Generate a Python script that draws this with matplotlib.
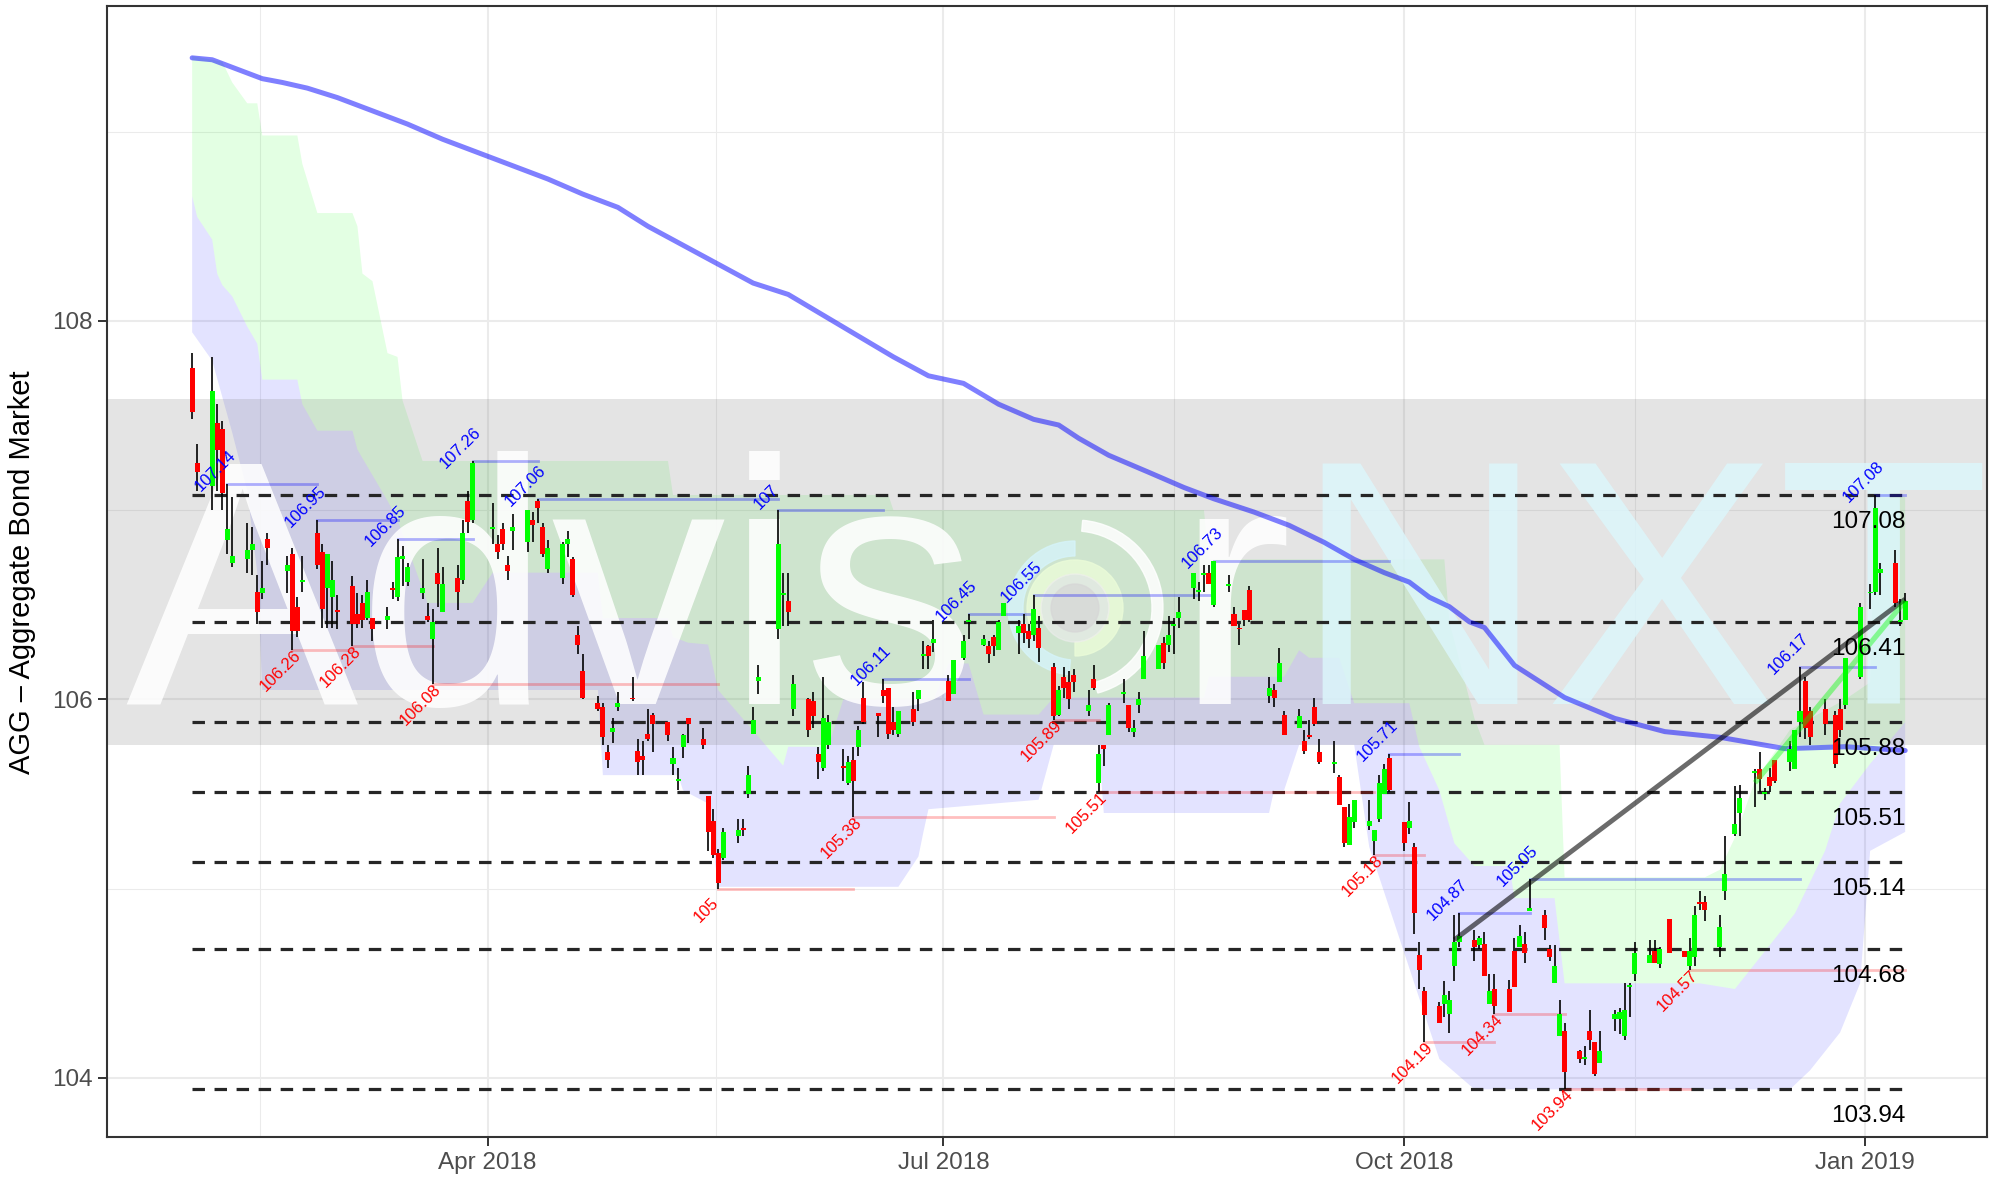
import numpy as np
import pandas as pd
import matplotlib
matplotlib.use('Agg')
import matplotlib.pyplot as plt
import matplotlib.dates as mdates
from matplotlib.patches import Wedge, Circle
from matplotlib.transforms import IdentityTransform

plt.rcParams['font.family'] = ['Liberation Sans', 'DejaVu Sans']

# trading days shown
holidays = ['2018-02-19', '2018-03-30', '2018-05-28', '2018-07-04', '2018-09-03',
            '2018-11-22', '2018-12-05', '2018-12-25', '2019-01-01']
days = pd.bdate_range('2018-02-01', '2019-01-09')
days = days[~days.isin(pd.to_datetime(holidays))]

opens = [
    # Feb
    107.75, 107.25, 107.13, 107.46, 107.43, 106.84, 106.72, 106.74, 106.79, 106.57, 106.56, 106.85, 106.68, 106.77, 106.49, 106.62, 106.88, 106.78, 106.59,
    # Mar
    106.54, 106.47, 106.60, 106.45, 106.51, 106.43, 106.43, 106.42, 106.59, 106.54, 106.74, 106.62, 106.56, 106.44, 106.32, 106.67, 106.46, 106.64, 106.63, 107.05, 106.95,
    # Apr
    106.90, 106.82, 106.90, 106.71, 106.89, 106.83, 106.95, 107.05, 106.91, 106.69, 106.64, 106.82, 106.74, 106.34, 106.15, 105.98, 105.96, 105.72, 105.83, 105.96, 106.01,
    # May
    105.73, 105.70, 105.82, 105.92, 105.88, 105.66, 105.57, 105.75, 105.90, 105.79, 105.49, 105.36, 105.19, 105.16, 105.28, 105.32, 105.50, 105.82, 106.10, 106.37, 106.55, 106.52,
    # Jun
    105.95, 106.00, 105.99, 105.71, 105.64, 105.76, 105.65, 105.56, 105.68, 105.75, 106.01, 105.93, 106.05, 106.06, 105.88, 105.82, 105.95, 106.00, 106.23, 106.28, 106.30,
    # Jul
    106.10, 106.03, 106.22, 106.41, 106.29, 106.28, 106.33, 106.26, 106.44, 106.35, 106.40, 106.36, 106.34, 106.38, 106.17, 105.92, 106.12, 106.09, 106.13, 105.94, 106.11,
    # Aug
    105.56, 105.76, 105.81, 106.03, 105.97, 105.83, 105.97, 106.11, 106.16, 106.30, 106.29, 106.39, 106.43, 106.59, 106.57, 106.66, 106.67, 106.50, 106.60, 106.45, 106.38, 106.47, 106.58,
    # Sep
    106.02, 106.05, 106.09, 105.92, 105.85, 105.78, 105.81, 105.96, 105.72, 105.66, 105.59, 105.43, 105.23, 105.35, 105.33, 105.25, 105.37, 105.50, 105.69,
    # Oct
    105.35, 105.32, 105.22, 104.65, 104.46, 104.38, 104.39, 104.34, 104.59, 104.72, 104.73, 104.70, 104.71, 104.39, 104.47, 104.47, 104.67, 104.69, 104.71, 104.88, 104.86, 104.68, 104.50,
    # Nov
    104.22, 104.25, 104.14, 104.10, 104.25, 104.19, 104.08, 104.31, 104.31, 104.22, 104.48, 104.55, 104.61, 104.67, 104.60, 104.84, 104.67, 104.59, 104.64, 104.93, 104.93,
    # Dec
    104.69, 104.99, 105.29, 105.40, 105.61, 105.63, 105.50, 105.59, 105.68, 105.67, 105.63, 105.88, 106.10, 105.94, 105.95, 105.92, 105.95, 105.97, 106.12,
    # Jan
    106.56, 106.57, 106.67, 106.72, 106.41, 106.42,
]
highs = [
    107.83, 107.35, 107.81, 107.56, 107.47, 107.14, 107.07, 106.93, 106.91, 106.66, 106.73, 106.88, 106.76, 106.80, 106.54, 106.76, 106.95, 106.82, 106.77,
    106.73, 106.55, 106.65, 106.56, 106.55, 106.63, 106.43, 106.49, 106.62, 106.85, 106.81, 106.72, 106.74, 106.51, 106.48, 106.80, 106.70, 106.71, 106.95, 107.10, 107.26,
    107.04, 106.87, 106.93, 106.76, 106.98, 107.00, 106.99, 107.06, 106.93, 106.84, 106.83, 106.89, 106.75, 106.39, 106.24, 106.02, 105.98, 105.76, 105.90, 106.04, 106.12,
    105.79, 105.78, 105.95, 105.93, 105.88, 105.75, 105.64, 105.82, 105.90, 105.85, 105.49, 105.42, 105.21, 105.32, 105.37, 105.37, 105.65, 105.96, 106.18, 107.00, 106.67, 106.67,
    106.13, 106.01, 106.04, 105.75, 106.12, 105.92, 105.74, 105.70, 105.75, 105.86, 106.09, 105.93, 106.11, 106.06, 105.96, 105.94, 106.04, 106.05, 106.31, 106.29, 106.42,
    106.13, 106.21, 106.34, 106.45, 106.34, 106.31, 106.34, 106.42, 106.51, 106.42, 106.45, 106.40, 106.55, 106.44, 106.19, 106.07, 106.17, 106.15, 106.16, 106.05, 106.18,
    105.76, 105.76, 105.98, 106.11, 105.97, 105.89, 106.04, 106.36, 106.29, 106.33, 106.44, 106.43, 106.54, 106.67, 106.62, 106.71, 106.71, 106.73, 106.66, 106.49, 106.40, 106.47, 106.60,
    106.12, 106.08, 106.27, 105.94, 105.95, 105.84, 105.89, 106.01, 105.79, 105.78, 105.60, 105.43, 105.45, 105.47, 105.47, 105.31, 105.60, 105.66, 105.71,
    105.35, 105.46, 105.24, 104.72, 104.48, 104.40, 104.51, 104.46, 104.86, 104.87, 104.78, 104.75, 104.77, 104.55, 104.55, 104.52, 104.74, 104.81, 104.77, 105.05, 104.89, 104.70, 104.70,
    104.41, 104.29, 104.15, 104.17, 104.36, 104.19, 104.25, 104.36, 104.37, 104.50, 104.50, 104.72, 104.73, 104.73, 104.69, 104.84, 104.67, 104.74, 104.91, 104.99, 104.96,
    104.86, 105.28, 105.54, 105.55, 105.63, 105.72, 105.53, 105.64, 105.68, 105.78, 105.84, 106.17, 106.12, 105.96, 106.00, 105.94, 106.00, 106.22, 106.51,
    106.61, 107.08, 106.72, 106.79, 106.53, 106.56,
]
lows = [
    107.48, 107.10, 107.00, 107.10, 107.00, 106.77, 106.70, 106.67, 106.66, 106.40, 106.53, 106.71, 106.56, 106.26, 106.33, 106.57, 106.69, 106.38, 106.38,
    106.38, 106.37, 106.28, 106.38, 106.38, 106.42, 106.31, 106.37, 106.53, 106.52, 106.60, 106.60, 106.53, 106.41, 106.08, 106.49, 106.46, 106.47, 106.61, 106.88, 106.93,
    106.82, 106.74, 106.79, 106.63, 106.79, 106.78, 106.83, 106.93, 106.75, 106.67, 106.61, 106.75, 106.54, 106.24, 106.00, 105.94, 105.76, 105.64, 105.77, 105.94, 105.99,
    105.60, 105.60, 105.78, 105.72, 105.78, 105.60, 105.52, 105.69, 105.77, 105.74, 105.20, 105.16, 105.00, 105.15, 105.24, 105.28, 105.48, 105.82, 106.03, 106.32, 106.39, 106.39,
    105.91, 105.80, 105.85, 105.58, 105.62, 105.74, 105.57, 105.55, 105.38, 105.70, 105.87, 105.80, 105.98, 105.79, 105.81, 105.80, 105.86, 105.94, 106.16, 106.16, 106.25,
    105.99, 106.03, 106.21, 106.32, 106.28, 106.19, 106.23, 106.26, 106.44, 106.24, 106.30, 106.27, 106.31, 106.20, 105.89, 105.91, 106.01, 105.95, 106.04, 105.91, 106.05,
    105.51, 105.65, 105.81, 105.98, 105.83, 105.80, 105.93, 106.11, 106.16, 106.16, 106.25, 106.24, 106.38, 106.53, 106.52, 106.57, 106.61, 106.49, 106.57, 106.39, 106.29, 106.39, 106.41,
    105.98, 105.96, 106.09, 105.81, 105.85, 105.71, 105.79, 105.86, 105.66, 105.61, 105.44, 105.22, 105.23, 105.32, 105.31, 105.18, 105.35, 105.50, 105.51,
    105.20, 105.29, 104.76, 104.47, 104.19, 104.29, 104.32, 104.24, 104.51, 104.69, 104.62, 104.68, 104.54, 104.39, 104.34, 104.35, 104.48, 104.69, 104.61, 104.88, 104.73, 104.62, 104.50,
    104.22, 103.94, 104.08, 104.07, 104.15, 104.01, 104.08, 104.25, 104.23, 104.20, 104.32, 104.51, 104.61, 104.61, 104.58, 104.66, 104.64, 104.57, 104.59, 104.89, 104.83,
    104.64, 104.94, 105.28, 105.28, 105.43, 105.51, 105.47, 105.51, 105.56, 105.62, 105.63, 105.80, 105.79, 105.76, 105.81, 105.64, 105.80, 105.95, 106.11,
    106.48, 106.55, 106.55, 106.49, 106.39, 106.42,
]
closes = [
    107.52, 107.20, 107.63, 107.32, 107.09, 106.90, 106.76, 106.79, 106.82, 106.46, 106.59, 106.80, 106.71, 106.36, 106.36, 106.63, 106.71, 106.48, 106.77,
    106.63, 106.46, 106.40, 106.40, 106.42, 106.57, 106.37, 106.44, 106.58, 106.75, 106.76, 106.70, 106.59, 106.42, 106.41, 106.61, 106.61, 106.57, 106.88, 106.94, 107.25,
    106.91, 106.78, 106.82, 106.68, 106.91, 107.00, 106.92, 107.01, 106.77, 106.80, 106.82, 106.85, 106.55, 106.29, 106.01, 105.95, 105.80, 105.68, 105.85, 105.98, 106.00,
    105.67, 105.68, 105.79, 105.87, 105.81, 105.69, 105.58, 105.81, 105.87, 105.76, 105.30, 105.18, 105.03, 105.30, 105.31, 105.31, 105.60, 105.89, 106.12, 106.82, 106.56, 106.46,
    106.08, 105.84, 105.91, 105.67, 105.90, 105.88, 105.64, 105.67, 105.57, 105.84, 105.88, 105.91, 106.02, 105.82, 105.84, 105.94, 105.88, 106.05, 106.24, 106.23, 106.32,
    105.99, 106.21, 106.31, 106.42, 106.32, 106.24, 106.28, 106.41, 106.51, 106.39, 106.35, 106.32, 106.48, 106.27, 105.91, 106.05, 106.06, 106.00, 106.09, 105.97, 106.06,
    105.71, 105.74, 105.97, 106.04, 105.85, 105.85, 106.00, 106.23, 106.29, 106.19, 106.34, 106.40, 106.46, 106.67, 106.58, 106.67, 106.61, 106.73, 106.61, 106.39, 106.37, 106.42, 106.42,
    106.06, 106.01, 106.19, 105.81, 105.91, 105.73, 105.80, 105.87, 105.67, 105.67, 105.44, 105.24, 105.38, 105.47, 105.36, 105.31, 105.56, 105.63, 105.52,
    105.24, 105.36, 104.87, 104.57, 104.33, 104.29, 104.44, 104.41, 104.72, 104.75, 104.69, 104.74, 104.54, 104.46, 104.38, 104.35, 104.48, 104.75, 104.66, 104.90, 104.79, 104.64, 104.59,
    104.34, 104.03, 104.10, 104.11, 104.20, 104.02, 104.14, 104.34, 104.35, 104.36, 104.49, 104.66, 104.65, 104.61, 104.68, 104.66, 104.64, 104.67, 104.86, 104.92, 104.89,
    104.80, 105.08, 105.34, 105.48, 105.62, 105.58, 105.51, 105.54, 105.57, 105.74, 105.84, 105.94, 105.85, 105.80, 105.87, 105.66, 105.84, 106.22, 106.49,
    106.57, 107.01, 106.69, 106.51, 106.42, 106.52,
]

# long moving average
ma_dates = ['2018-02-01', '2018-02-05', '2018-02-10', '2018-02-15', '2018-02-19', '2018-02-24',
            '2018-03-02', '2018-03-09', '2018-03-16', '2018-03-23', '2018-03-30', '2018-04-06',
            '2018-04-13', '2018-04-20', '2018-04-27', '2018-05-03', '2018-05-10', '2018-05-17',
            '2018-05-24', '2018-05-31', '2018-06-07', '2018-06-14', '2018-06-21', '2018-06-28',
            '2018-07-05', '2018-07-12', '2018-07-19', '2018-07-24', '2018-07-28', '2018-08-03',
            '2018-08-11', '2018-08-18', '2018-08-24', '2018-09-01', '2018-09-08', '2018-09-15',
            '2018-09-21', '2018-09-27', '2018-10-02', '2018-10-06', '2018-10-10', '2018-10-14',
            '2018-10-17', '2018-10-23', '2018-11-02', '2018-11-12', '2018-11-22', '2018-12-03',
            '2018-12-16', '2018-12-28', '2019-01-09']
ma_values = [109.39, 109.38, 109.33, 109.28, 109.26, 109.23,
             109.18, 109.11, 109.04, 108.96, 108.89, 108.82,
             108.75, 108.67, 108.60, 108.50, 108.40, 108.30,
             108.20, 108.14, 108.03, 107.92, 107.81, 107.71,
             107.67, 107.56, 107.48, 107.45, 107.38, 107.29,
             107.20, 107.12, 107.06, 106.99, 106.92, 106.83,
             106.74, 106.67, 106.62, 106.54, 106.49, 106.41,
             106.38, 106.18, 106.01, 105.90, 105.83, 105.80,
             105.74, 105.75, 105.73]

# clouds
green_top_dates = ['2018-02-01', '2018-02-07', '2018-02-09', '2018-02-12', '2018-02-14', '2018-02-15',
                   '2018-02-22', '2018-02-23', '2018-02-26', '2018-03-05', '2018-03-06', '2018-03-07',
                   '2018-03-09', '2018-03-12', '2018-03-14', '2018-03-15', '2018-03-19', '2018-05-07',
                   '2018-05-08', '2018-06-20', '2018-06-21', '2018-08-22', '2018-08-23', '2018-10-09',
                   '2018-10-10', '2018-10-15', '2018-10-17', '2018-11-01', '2018-11-02', '2018-11-30',
                   '2018-12-03', '2018-12-06', '2018-12-10', '2018-12-17', '2018-12-28', '2019-01-02',
                   '2019-01-03', '2019-01-09']
green_top = [109.40, 109.37, 109.26, 109.15, 109.15, 108.98,
             108.98, 108.83, 108.57, 108.57, 108.50, 108.25,
             108.21, 107.83, 107.81, 107.58, 107.26, 107.26,
             107.08, 107.08, 107.00, 107.00, 106.74, 106.74,
             106.41, 105.90, 105.76, 105.76, 105.06, 105.06,
             105.10, 105.27, 105.57, 105.84, 106.00, 106.09,
             107.07, 107.07]
blue_top_dates = ['2018-02-01', '2018-02-02', '2018-02-05', '2018-02-06', '2018-02-07', '2018-02-09',
                  '2018-02-12', '2018-02-14', '2018-02-15', '2018-02-22', '2018-02-23', '2018-02-26',
                  '2018-03-05', '2018-03-06', '2018-03-08', '2018-03-12', '2018-03-14', '2018-03-20',
                  '2018-03-29', '2018-04-02', '2018-04-23', '2018-04-24', '2018-05-07', '2018-05-08',
                  '2018-05-11', '2018-05-15', '2018-05-17', '2018-05-30', '2018-05-31', '2018-06-08',
                  '2018-06-11', '2018-06-29', '2018-07-02', '2018-07-06', '2018-07-09', '2018-07-20',
                  '2018-07-23', '2018-08-22',
                  '2018-08-23', '2018-09-07', '2018-09-10', '2018-09-12', '2018-09-18', '2018-09-21',
                  '2018-10-02', '2018-10-04', '2018-10-08', '2018-10-11', '2018-10-15', '2018-10-22',
                  '2018-10-23', '2018-10-31', '2018-11-02', '2018-11-29', '2018-12-06', '2018-12-18',
                  '2018-12-24', '2018-12-27', '2019-01-02', '2019-01-09']
blue_top = [108.66, 108.55, 108.43, 108.25, 108.19, 108.13,
            107.97, 107.88, 107.69, 107.69, 107.56, 107.42,
            107.42, 107.32, 107.23, 107.05, 106.95, 106.51,
            106.51, 106.67, 106.67, 106.43, 106.43, 106.33,
            106.30, 106.29, 106.05, 105.65, 105.75, 105.75,
            106.00, 106.00, 106.19, 106.19, 105.92, 105.92,
            106.01, 106.01,
            106.12, 106.12, 106.26, 106.22, 106.22, 105.98,
            105.98, 105.75, 105.52, 105.24, 105.12, 105.12,
            104.95, 104.95, 104.50, 104.50, 104.47, 104.87,
            105.20, 105.45, 105.66, 105.88]
blue_bot_dates = ['2018-02-01', '2018-02-05', '2018-02-09', '2018-02-12', '2018-02-14', '2018-02-15',
                  '2018-04-23', '2018-04-24', '2018-05-09', '2018-05-10', '2018-05-15', '2018-05-17',
                  '2018-06-22', '2018-06-26', '2018-06-27', '2018-06-28', '2018-07-20', '2018-07-23',
                  '2018-08-01', '2018-08-02', '2018-09-04', '2018-09-05', '2018-09-07', '2018-09-10',
                  '2018-09-21', '2018-09-24', '2018-10-08', '2018-10-15', '2018-12-17', '2018-12-21',
                  '2018-12-27', '2018-12-31', '2019-01-02', '2019-01-09']
blue_bot = [107.94, 107.79, 107.41, 107.10, 106.67, 106.05,
            106.05, 105.60, 105.60, 105.52, 105.45, 105.01,
            105.01, 105.17, 105.30, 105.42, 105.47, 105.76,
            105.76, 105.40, 105.40, 105.52, 105.52, 105.76,
            105.76, 105.22, 104.10, 103.94, 103.94, 104.04,
            104.24, 104.50, 105.20, 105.30]

# support / resistance levels
levels = [107.08, 106.41, 105.88, 105.51, 105.14, 104.68, 103.94]
band_low, band_high = 105.76, 107.588

# swing highs and lows
swing_high_dates = ['2018-02-08', '2018-02-26', '2018-03-14', '2018-03-29', '2018-04-11', '2018-05-29',
                    '2018-06-19', '2018-07-06', '2018-07-19', '2018-08-24', '2018-09-28', '2018-10-12',
                    '2018-10-26', '2018-12-19', '2019-01-03']
swing_high_values = [107.14, 106.95, 106.85, 107.26, 107.06, 107.00,
                     106.11, 106.45, 106.55, 106.73, 105.71, 104.87,
                     105.05, 106.17, 107.08]
swing_low_dates = ['2018-02-21', '2018-03-05', '2018-03-21', '2018-05-17', '2018-06-13', '2018-07-23',
                   '2018-08-01', '2018-09-25', '2018-10-05', '2018-10-19', '2018-11-02', '2018-11-27']
swing_low_values = [106.26, 106.28, 106.08, 105.00, 105.38, 105.89,
                    105.51, 105.18, 104.19, 104.34, 103.94, 104.57]

# trend lines
trend_dates = ['2018-10-11', '2019-01-09']
trend_values = [104.73, 106.53]
short_trend_dates = ['2018-12-10', '2019-01-09']
short_trend_values = [105.56, 106.52]

# ---------------------------------------------------------------------------
W, H = 2007, 1179
fig = plt.figure(figsize=(W / 100, H / 100), dpi=100)
AX_L, AX_R, AX_T, AX_B = 107, 1987, 6, 1137
ax = fig.add_axes([AX_L / W, (H - AX_B) / H, (AX_R - AX_L) / W, (AX_B - AX_T) / H])

def d2n(d):
    return mdates.date2num(pd.to_datetime(d, format='ISO8601'))

x = mdates.date2num(days)
o, h, l, c = map(np.array, (opens, highs, lows, closes))
xmin, xmax = d2n('2018-01-15'), d2n('2019-01-25 08:00')
ax.set_xlim(xmin, xmax)
ax.set_ylim(103.688, 109.664)

# grid (theme_bw look)
ax.set_axisbelow(True)
ax.set_xticks(d2n(['2018-04-01', '2018-07-01', '2018-10-01', '2019-01-01']))
ax.set_xticklabels(['Apr 2018', 'Jul 2018', 'Oct 2018', 'Jan 2019'])
ax.set_xticks(d2n(['2018-02-14 12:00', '2018-05-16 12:00', '2018-08-16 00:00', '2018-11-16 00:00']), minor=True)
ax.set_yticks([104, 106, 108])
ax.set_yticks([105, 107, 109], minor=True)
ax.grid(which='major', color='#EBEBEB', lw=1.5)
ax.grid(which='minor', color='#EBEBEB', lw=0.75)
ax.tick_params(which='major', length=6.5, width=1.4, color='#333333',
               labelsize=17.5, labelcolor='#4D4D4D', pad=4)
ax.tick_params(which='minor', length=0)
for s in ax.spines.values():
    s.set_color('#333333')
    s.set_linewidth(1.5)

# clouds
gx, bx, bbx = d2n(green_top_dates), d2n(blue_top_dates), d2n(blue_bot_dates)
ax.fill(np.r_[gx, bx[::-1]], np.r_[green_top, blue_top[::-1]],
        color=(0, 1, 0), alpha=0.11, lw=0, zorder=1)
ax.fill(np.r_[bx, bbx[::-1]], np.r_[blue_top, blue_bot[::-1]],
        color=(0, 0, 1), alpha=0.11, lw=0, zorder=1)

# value band
ax.axhspan(band_low, band_high, color='#7A7A7A', alpha=0.2, lw=0, zorder=2)

# watermark
def ax_xy(px, py):
    return (px - AX_L) / (AX_R - AX_L), (AX_B - py) / (AX_B - AX_T)

wm = dict(fontsize=251, va='baseline', ha='left', transform=ax.transAxes, zorder=2.5)
ax.text(*ax_xy(125, 704), 'Advis', color='white', alpha=0.88, **wm)
ax.text(*ax_xy(1175, 704), 'r', color='white', alpha=0.88, **wm)
ax.text(*ax_xy(1293, 704), 'NXT', color='#DCF6FB', alpha=0.85, **wm)
cx, cy = 1075, H - 608
logo = [Wedge((cx, cy), 88, -75, 85, width=11, color='white', alpha=0.85),
        Wedge((cx, cy), 67, 90, 265, width=15, color='#D6F4FA', alpha=0.8),
        Wedge((cx, cy), 48, -90, 200, width=14, color='#EAFBD8', alpha=0.85),
        Circle((cx, cy), 34, color='#EDEDED', alpha=0.6),
        Circle((cx, cy), 24, color='#D6D6D6', alpha=0.7)]
for p in logo:
    p.set_transform(IdentityTransform())
    p.set_zorder(2.6)
    ax.add_artist(p)

# support / resistance levels
x0, x1 = x[0], x[-1]
for lv in levels:
    ax.plot([x0, x1], [lv, lv], color='#262626', lw=2.3,
            linestyle=(0, (3.9, 3.0)), zorder=3)
    ax.annotate(f'{lv:.2f}', xy=(x1, lv), xytext=(0, -19.5), textcoords='offset points',
                ha='right', va='center', fontsize=17.5, color='black', zorder=7)

# swing segments
shx = d2n(swing_high_dates)
for i, (sx, sv) in enumerate(zip(shx, swing_high_values)):
    ex = shx[i + 1] if i + 1 < len(shx) else x1
    ax.plot([sx, ex], [sv, sv], color='blue', alpha=0.3, lw=2, zorder=3)
slx = d2n(swing_low_dates)
for i, (sx, sv) in enumerate(zip(slx, swing_low_values)):
    ex = slx[i + 1] if i + 1 < len(slx) else x1
    ax.plot([sx, ex], [sv, sv], color='red', alpha=0.25, lw=2, zorder=3)

# moving average
ax.plot(d2n(ma_dates), ma_values, color='blue', alpha=0.5, lw=3.6,
        solid_capstyle='round', zorder=3.5)

# candles
up = c >= o
ax.vlines(x, l, h, color='black', lw=1.2, zorder=4)
ax.bar(x, np.abs(c - o), bottom=np.minimum(o, c), width=1.0,
       color=np.where(up, '#00FF00', '#FF0000'), lw=0, zorder=5)

# trend lines
ax.plot(d2n(trend_dates), trend_values, color='black', alpha=0.58, lw=3.5,
        solid_capstyle='butt', zorder=6)
ax.plot(d2n(short_trend_dates), short_trend_values, color='#00FF00', alpha=0.4, lw=3.8,
        solid_capstyle='butt', zorder=6)

# swing labels
for sx, sv in zip(shx, swing_high_values):
    ax.annotate(f'{sv:g}', xy=(sx, sv), xytext=(-8.6, 9.4), textcoords='offset points',
                rotation=45, ha='center', va='center', fontsize=12, color='blue', zorder=7)
for sx, sv in zip(slx, swing_low_values):
    ax.annotate(f'{sv:g}', xy=(sx, sv), xytext=(-8.6, -15), textcoords='offset points',
                rotation=45, ha='center', va='center', fontsize=12, color='red', zorder=7)

fig.text(22 / W, 1 - 572 / H, 'AGG \u2013 Aggregate Bond Market', rotation=90,
         ha='center', va='center', fontsize=21, color='black')

fig.savefig('out.png', dpi=100, facecolor='white')
